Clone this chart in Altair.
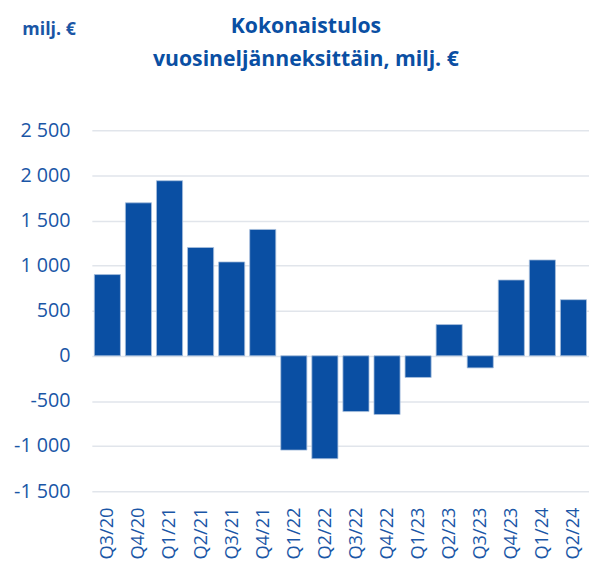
import altair as alt
import pandas as pd

quarters = ["Q3/20", "Q4/20", "Q1/21", "Q2/21", "Q3/21", "Q4/21",
            "Q1/22", "Q2/22", "Q3/22", "Q4/22", "Q1/23", "Q2/23",
            "Q3/23", "Q4/23", "Q1/24", "Q2/24"]
values = [900, 1695, 1940, 1200, 1040, 1400,
          -1045, -1140, -618, -650, -240, 346,
          -134, 840, 1062, 622]
y_ticks = [-1500, -1000, -500, 0, 500, 1000, 1500, 2000, 2500]
title_lines = ["Kokonaistulos", "vuosineljänneksittäin, milj. €"]

df = pd.DataFrame({"q": quarters, "v": values})

BLUE = "#0a4fa3"
TEXT = "#1a56a6"
FONT = "Open Sans"

bars = alt.Chart(df).mark_bar(
    color=BLUE, stroke="#a9c0dd", strokeWidth=0.8
).encode(
    x=alt.X("q:N", sort=quarters,
            scale=alt.Scale(paddingInner=0.16, paddingOuter=0.08),
            axis=alt.Axis(title=None, labelAngle=-90, labelFontSize=18.5,
                          labelColor=TEXT, labelFont=FONT, labelPadding=16,
                          labelOverlap=False,
                          ticks=False, domain=False, grid=False)),
    y=alt.Y("v:Q", scale=alt.Scale(domain=[-1500, 2500], nice=False),
            axis=alt.Axis(values=y_ticks, title="milj. €", titleAngle=0,
                          titleX=-71, titleY=-97, titleAlign="left",
                          titleBaseline="alphabetic", titleFontSize=18,
                          titleFont=FONT, titleFontWeight="bold", titleColor=TEXT,
                          labelExpr="(datum.value < 0 ? '-' : '') + replace(format(abs(datum.value), ','), ',', ' ')",
                          labelFontSize=20, labelColor=TEXT, labelFont=FONT,
                          labelPadding=22, ticks=False, domain=False,
                          gridColor="#e1e5eb", gridWidth=1.5)),
)

def title_line(txt, ypos):
    return alt.Chart(pd.DataFrame({"t": [txt]})).mark_text(
        font=FONT, fontSize=21.5, fontWeight="bold", color=BLUE,
        align="center", baseline="alphabetic"
    ).encode(text="t:N", x=alt.value(217), y=alt.value(ypos))

chart = alt.layer(
    bars,
    title_line(title_lines[0], -98),
    title_line(title_lines[1], -65),
).properties(
    width=504, height=366,
    autosize=alt.AutoSizeParams(type="none"),
    padding={"left": 85, "top": 120, "right": 0, "bottom": 72},
).configure_view(stroke=None)

chart.save("out.html", embed_options={"renderer": "svg", "actions": False})
